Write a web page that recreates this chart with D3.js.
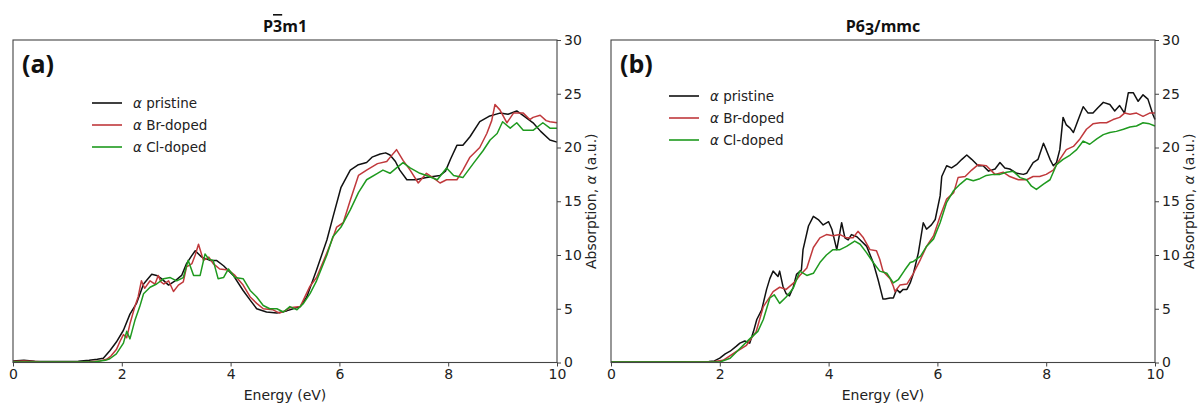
<!DOCTYPE html>
<html>
<head>
<meta charset="utf-8">
<script src="https://cdn.jsdelivr.net/npm/d3@7"></script>
<style>
  html, body { margin: 0; padding: 0; background: #fff; }
  svg { display: block; }
  .tick text { font-family: "DejaVu Sans", sans-serif; font-size: 14px; fill: #222; }
</style>
</head>
<body>
<svg id="chart" width="1200" height="405"></svg>
<script>
// Absorption spectra, [energy (eV), absorption (a.u.)]
// Panel (a): P-3m1
const pristineA = [[0,0.15],[0.2,0.22],[0.4,0.12],[0.8,0.1],[1.2,0.12],[1.4,0.2],[1.55,0.3],[1.66,0.4],[1.78,1.1],[1.9,1.9],[2.03,3.0],[2.15,4.5],[2.27,5.5],[2.4,7.3],[2.55,8.2],[2.64,8.1],[2.73,7.8],[2.86,7.2],[2.98,7.6],[3.1,8.1],[3.19,9.2],[3.28,9.9],[3.35,10.4],[3.47,9.8],[3.62,9.5],[3.74,9.5],[3.87,9.0],[4.05,8.1],[4.23,6.7],[4.36,5.8],[4.48,5.0],[4.66,4.7],[4.85,4.6],[5.03,4.8],[5.15,5.0],[5.28,5.2],[5.4,6.1],[5.58,8.6],[5.77,11.4],[5.88,13.5],[6.03,16.3],[6.2,17.9],[6.35,18.4],[6.5,18.6],[6.6,19.1],[6.75,19.4],[6.85,19.5],[6.93,19.3],[7.03,18.7],[7.11,17.9],[7.24,17.0],[7.4,17.0],[7.6,17.2],[7.85,17.4],[7.95,17.8],[8.05,19.0],[8.16,20.2],[8.27,20.2],[8.4,21.0],[8.58,22.4],[8.75,22.9],[8.95,23.2],[9.1,23.1],[9.26,23.4],[9.4,22.9],[9.56,22.3],[9.7,21.5],[9.87,20.7],[10,20.5]];
const brDopedA = [[0,0.1],[0.2,0.15],[0.5,0.08],[1.0,0.05],[1.4,0.08],[1.6,0.15],[1.72,0.3],[1.8,0.6],[1.9,1.2],[1.97,2.0],[2.03,2.6],[2.09,2.3],[2.15,3.6],[2.24,5.2],[2.3,6.1],[2.36,7.6],[2.42,6.9],[2.52,7.6],[2.61,7.3],[2.67,8.1],[2.72,7.5],[2.77,7.3],[2.86,7.6],[2.95,6.6],[3.04,7.2],[3.13,7.5],[3.19,8.9],[3.29,9.2],[3.35,10.0],[3.41,11.0],[3.5,9.5],[3.6,9.8],[3.68,9.2],[3.8,8.7],[3.96,8.6],[4.08,8.1],[4.23,7.2],[4.36,6.1],[4.48,5.5],[4.6,5.0],[4.78,4.9],[4.9,4.6],[5.0,4.8],[5.09,5.1],[5.28,5.2],[5.46,7.1],[5.58,7.9],[5.77,10.2],[5.88,11.6],[5.95,12.6],[6.07,13.0],[6.2,15.1],[6.35,17.4],[6.5,17.9],[6.7,18.5],[6.87,18.7],[6.95,19.2],[7.05,19.8],[7.17,18.8],[7.3,17.9],[7.45,16.7],[7.6,17.6],[7.72,17.2],[7.85,16.7],[7.97,17.0],[8.16,17.0],[8.27,17.9],[8.4,19.1],[8.58,20.0],[8.71,21.3],[8.8,22.5],[8.86,24.0],[8.95,23.5],[9.08,22.3],[9.2,23.2],[9.38,23.2],[9.5,22.6],[9.56,22.8],[9.69,23.0],[9.8,22.5],[9.87,22.4],[10,22.3]];
const clDopedA = [[0,0.05],[0.5,0.05],[1.0,0.05],[1.5,0.08],[1.7,0.2],[1.78,0.35],[1.9,0.8],[2.03,1.8],[2.09,2.9],[2.15,2.2],[2.24,3.9],[2.33,5.2],[2.4,6.4],[2.52,7.0],[2.64,7.3],[2.77,7.8],[2.89,7.9],[3.01,7.6],[3.13,7.9],[3.22,9.5],[3.32,8.1],[3.44,8.1],[3.53,10.1],[3.6,9.6],[3.68,9.5],[3.77,7.8],[3.87,7.9],[3.96,8.7],[4.08,7.9],[4.23,7.8],[4.36,6.7],[4.48,6.1],[4.6,5.3],[4.72,5.0],[4.85,5.0],[4.97,4.7],[5.09,5.2],[5.22,4.9],[5.34,5.5],[5.46,6.4],[5.58,7.6],[5.77,10.0],[5.88,11.7],[6.03,12.6],[6.2,14.2],[6.35,15.8],[6.5,17.0],[6.7,17.6],[6.8,17.9],[6.93,17.6],[7.05,18.1],[7.17,18.6],[7.3,18.1],[7.48,17.6],[7.6,17.4],[7.8,17.0],[7.97,18.1],[8.1,17.4],[8.27,17.2],[8.46,18.5],[8.64,19.7],[8.77,20.7],[8.9,21.3],[9.0,22.4],[9.14,21.8],[9.26,22.3],[9.38,21.6],[9.56,21.6],[9.74,22.3],[9.87,21.8],[10,21.8]];

// Panel (b): P6_3/mmc
const pristineB = [[0,0.05],[1.0,0.05],[1.8,0.1],[1.9,0.15],[2.0,0.4],[2.1,0.8],[2.19,1.05],[2.3,1.5],[2.37,1.8],[2.46,2.0],[2.55,1.8],[2.62,2.9],[2.68,4.0],[2.77,4.9],[2.86,6.8],[2.92,7.8],[2.98,8.5],[3.07,8.0],[3.1,8.5],[3.16,7.1],[3.22,6.4],[3.28,6.2],[3.35,7.0],[3.41,8.2],[3.5,8.6],[3.53,10.5],[3.63,12.7],[3.72,13.6],[3.81,13.3],[3.9,12.8],[4.0,13.1],[4.06,12.4],[4.15,10.5],[4.24,13.0],[4.3,11.6],[4.36,11.4],[4.42,11.9],[4.52,11.7],[4.6,11.3],[4.7,10.8],[4.82,9.3],[4.91,7.7],[5.0,5.9],[5.04,5.9],[5.13,6.0],[5.19,6.0],[5.25,6.8],[5.31,6.5],[5.37,6.8],[5.44,6.8],[5.5,7.4],[5.56,8.3],[5.65,10.2],[5.74,13.0],[5.8,12.4],[5.89,12.8],[5.96,13.3],[6.05,15.5],[6.08,17.3],[6.17,18.3],[6.26,18.1],[6.35,18.4],[6.45,18.9],[6.54,19.3],[6.63,18.9],[6.75,18.3],[6.84,18.3],[6.94,17.8],[7.06,18.0],[7.15,18.6],[7.24,18.1],[7.33,18.0],[7.46,17.6],[7.58,17.5],[7.64,17.6],[7.76,18.6],[7.85,18.9],[7.95,20.4],[8.0,19.8],[8.07,18.9],[8.13,18.3],[8.19,18.6],[8.25,19.8],[8.31,22.8],[8.37,22.1],[8.44,21.8],[8.5,21.4],[8.59,22.6],[8.68,23.8],[8.77,23.2],[8.86,23.2],[8.95,23.7],[9.05,24.2],[9.17,24.0],[9.26,23.4],[9.35,23.9],[9.44,23.2],[9.51,25.1],[9.6,25.1],[9.69,24.3],[9.78,24.9],[9.87,24.5],[9.96,23.1],[10,22.6]];
const brDopedB = [[0,0.05],[1.0,0.05],[1.9,0.1],[2.06,0.2],[2.3,1.0],[2.49,1.6],[2.67,2.9],[2.8,5.2],[2.92,6.1],[2.98,6.6],[3.1,7.0],[3.22,6.8],[3.38,7.5],[3.47,8.1],[3.6,8.8],[3.72,10.7],[3.84,11.6],[3.96,11.9],[4.08,11.8],[4.21,11.9],[4.33,11.6],[4.45,11.6],[4.54,12.2],[4.64,11.6],[4.76,10.5],[4.88,10.4],[4.94,9.6],[5.0,8.5],[5.13,7.8],[5.19,7.1],[5.22,6.6],[5.31,7.2],[5.44,7.3],[5.56,8.3],[5.69,9.6],[5.8,10.8],[5.93,11.8],[6.05,13.6],[6.17,15.2],[6.3,15.8],[6.38,17.2],[6.51,17.3],[6.63,17.9],[6.75,18.4],[6.9,18.3],[7.06,17.5],[7.21,17.7],[7.33,17.3],[7.49,17.0],[7.64,17.0],[7.76,17.3],[7.88,17.3],[8.0,17.5],[8.13,17.9],[8.25,18.9],[8.37,19.8],[8.5,20.1],[8.62,20.8],[8.74,21.7],[8.86,22.2],[8.99,22.3],[9.11,22.3],[9.23,22.6],[9.35,22.8],[9.44,23.2],[9.54,23.1],[9.66,23.2],[9.78,22.9],[9.9,23.2],[10,23.2]];
const clDopedB = [[0,0.05],[1.0,0.05],[1.9,0.05],[2.0,0.05],[2.19,0.4],[2.37,1.3],[2.55,2.2],[2.7,2.9],[2.8,4.0],[2.92,6.0],[3.0,6.3],[3.1,5.5],[3.22,6.1],[3.35,6.9],[3.47,8.5],[3.6,8.1],[3.72,8.3],[3.84,9.3],[3.96,10.0],[4.08,10.5],[4.21,10.5],[4.33,10.8],[4.48,11.3],[4.58,11.0],[4.7,10.2],[4.82,9.3],[4.94,8.5],[5.07,8.3],[5.19,7.4],[5.28,7.7],[5.4,8.6],[5.5,9.3],[5.56,9.4],[5.69,9.9],[5.8,10.8],[5.93,11.5],[6.05,13.0],[6.17,14.9],[6.3,16.0],[6.42,16.6],[6.54,17.1],[6.66,16.9],[6.78,17.1],[6.9,17.4],[7.03,17.5],[7.15,17.5],[7.27,17.7],[7.39,17.8],[7.52,17.2],[7.64,17.0],[7.73,16.4],[7.82,16.1],[7.95,16.6],[8.07,17.0],[8.19,18.4],[8.31,18.9],[8.44,19.3],[8.56,19.8],[8.68,20.6],[8.8,20.3],[8.93,20.8],[9.05,21.2],[9.17,21.4],[9.29,21.5],[9.42,21.7],[9.54,21.9],[9.66,22.0],[9.78,22.3],[9.9,22.2],[10,22.0]];

const seriesNames = ["pristine", "Br-doped", "Cl-doped"];
const seriesColors = ["#111111", "#c0393c", "#1f9a1f"];
const xTicks = [0, 2, 4, 6, 8, 10];
const yTicks = [0, 5, 10, 15, 20, 25, 30];
const xDomain = [0, 10];
const yDomain = [0, 30];

const panels = [
  { tag: "(a)", left: 13, legendX: 92, legendY: 103, data: [pristineA, brDopedA, clDopedA] },
  { tag: "(b)", left: 611, legendX: 669, legendY: 96, data: [pristineB, brDopedB, clDopedB] }
];

const svg = d3.select("#chart");
const plotW = 544, plotTop = 40, plotBottom = 362.5;

panels.forEach((p, i) => {
  const x = d3.scaleLinear().domain(xDomain).range([p.left, p.left + plotW]);
  const y = d3.scaleLinear().domain(yDomain).range([plotBottom, plotTop]);
  const g = svg.append("g");

  // curves
  const line = d3.line().x(d => x(d[0])).y(d => y(d[1]));
  p.data.forEach((s, k) => {
    g.append("path").datum(s)
      .attr("fill", "none")
      .attr("stroke", seriesColors[k])
      .attr("stroke-width", 1.5)
      .attr("stroke-linejoin", "round")
      .attr("d", line);
  });

  // frame
  g.append("rect")
    .attr("x", p.left).attr("y", plotTop)
    .attr("width", plotW).attr("height", plotBottom - plotTop)
    .attr("fill", "none").attr("stroke", "#444").attr("stroke-width", 1.1);

  // bottom axis
  const xAxis = g.append("g").attr("transform", `translate(0,${plotBottom})`)
    .call(d3.axisBottom(x).tickValues(xTicks).tickFormat(d3.format("d")).tickSize(4).tickPadding(3));
  xAxis.select(".domain").remove();
  xAxis.selectAll(".tick line").attr("stroke", "#444");

  // right axis
  const yAxis = g.append("g").attr("transform", `translate(${p.left + plotW},0)`)
    .call(d3.axisRight(y).tickValues(yTicks).tickFormat(d3.format("d")).tickSize(4).tickPadding(3));
  yAxis.select(".domain").remove();
  yAxis.selectAll(".tick line").attr("stroke", "#444");

  // axis titles
  g.append("text")
    .attr("x", p.left + plotW / 2).attr("y", 400)
    .attr("text-anchor", "middle")
    .style("font-family", "'DejaVu Sans', sans-serif").style("font-size", "14px").attr("fill", "#222")
    .text("Energy (eV)");

  const yl = g.append("text")
    .attr("transform", `translate(${p.left + plotW + 39},${(plotTop + plotBottom) / 2}) rotate(-90)`)
    .attr("text-anchor", "middle")
    .style("font-family", "'DejaVu Sans', sans-serif").style("font-size", "14px").attr("fill", "#222");
  yl.append("tspan").text("Absorption, ");
  yl.append("tspan").style("font-style", "italic").text("α");
  yl.append("tspan").text(" (a.u.)");

  // panel title
  const t = g.append("text")
    .attr("x", p.left + plotW / 2).attr("y", 32)
    .attr("text-anchor", "middle")
    .style("font-family", "'Open Sans', sans-serif").style("font-size", "16px")
    .style("font-weight", "bold").attr("fill", "#111");
  if (i === 0) {
    t.append("tspan").text("P");
    t.append("tspan").style("text-decoration", "overline").text("3");
    t.append("tspan").text("m1");
  } else {
    t.append("tspan").text("P6");
    t.append("tspan").attr("dy", 3).text("3");
    t.append("tspan").attr("dy", -3).text("/mmc");
  }

  // panel tag
  g.append("text")
    .attr("x", p.left + 9).attr("y", 73)
    .style("font-family", "'Open Sans', sans-serif").style("font-size", "25px")
    .style("font-weight", "bold").attr("fill", "#111")
    .text(p.tag);

  // legend
  seriesNames.forEach((name, k) => {
    const ly = p.legendY + k * 22;
    g.append("line")
      .attr("x1", p.legendX).attr("x2", p.legendX + 30)
      .attr("y1", ly).attr("y2", ly)
      .attr("stroke", seriesColors[k]).attr("stroke-width", 1.6);
    const lt = g.append("text")
      .attr("x", p.legendX + 41).attr("y", ly + 5)
      .style("font-family", "'DejaVu Sans', sans-serif").style("font-size", "13.5px").attr("fill", "#222");
    lt.append("tspan").style("font-style", "italic").text("α");
    lt.append("tspan").text(" " + name);
  });
});
</script>
</body>
</html>
